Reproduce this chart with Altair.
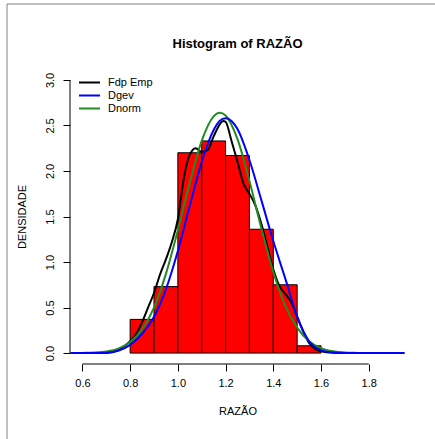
import altair as alt
import pandas as pd

# Histogram of RAZÃO: class limits and densities
bin_starts = [0.8, 0.9, 1.0, 1.1, 1.2, 1.3, 1.4, 1.5]
bin_ends = [0.9, 1.0, 1.1, 1.2, 1.3, 1.4, 1.5, 1.6]
densities = [0.37, 0.73, 2.20, 2.33, 2.17, 1.36, 0.75, 0.08]

# Empirical density (kernel estimate)
emp_x = [0.65, 0.70, 0.725, 0.75, 0.775, 0.80, 0.825, 0.85, 0.875, 0.90, 0.925,
         0.95, 0.975, 1.00, 1.025, 1.05, 1.075, 1.10, 1.125, 1.15, 1.175, 1.19,
         1.20, 1.225, 1.25, 1.275, 1.30, 1.325, 1.35, 1.375, 1.40, 1.425, 1.45,
         1.475, 1.50, 1.525, 1.55, 1.575, 1.60, 1.65, 1.70]
emp_y = [0.0, 0.002, 0.008, 0.035, 0.075, 0.13, 0.21, 0.34, 0.50, 0.66, 0.86,
         1.03, 1.22, 1.47, 1.92, 2.18, 2.25, 2.21, 2.23, 2.38, 2.51, 2.55,
         2.54, 2.33, 2.10, 1.86, 1.75, 1.62, 1.42, 1.17, 0.92, 0.74, 0.65,
         0.56, 0.40, 0.24, 0.11, 0.045, 0.02, 0.003, 0.0]

# Fitted GEV density
gev_x = [0.55, 0.60, 0.65, 0.70, 0.75, 0.80, 0.85, 0.90, 0.95, 1.00, 1.05, 1.10,
         1.15, 1.175, 1.20, 1.225, 1.25, 1.30, 1.35, 1.40, 1.45, 1.50, 1.55,
         1.60, 1.65, 1.70, 1.75, 1.80, 1.85, 1.90, 1.95]
gev_y = [0.0, 0.0, 0.0005, 0.004, 0.025, 0.09, 0.21, 0.40, 0.70, 1.12, 1.62, 2.10,
         2.45, 2.55, 2.58, 2.55, 2.46, 2.12, 1.68, 1.23, 0.82, 0.40, 0.13,
         0.032, 0.006, 0.001, 0.0, 0.0, 0.0, 0.0, 0.0]

# Fitted normal density
norm_x = [0.55, 0.60, 0.65, 0.70, 0.75, 0.80, 0.85, 0.90, 0.95, 1.00, 1.05, 1.10,
          1.15, 1.175, 1.20, 1.25, 1.30, 1.35, 1.40, 1.45, 1.50, 1.55, 1.60,
          1.65, 1.70, 1.75, 1.80, 1.85, 1.90, 1.95]
norm_y = [0.0005, 0.002, 0.006, 0.018, 0.049, 0.12, 0.26, 0.50, 0.87, 1.35, 1.87, 2.33,
          2.60, 2.64, 2.61, 2.35, 1.89, 1.37, 0.89, 0.52, 0.28, 0.13, 0.055,
          0.02, 0.006, 0.002, 0.0005, 0.0001, 0.0, 0.0]

x_ticks = [0.6, 0.8, 1.0, 1.2, 1.4, 1.6, 1.8]
y_ticks = [0.0, 0.5, 1.0, 1.5, 2.0, 2.5, 3.0]
series_names = ["Fdp Emp", "Dgev", "Dnorm"]
series_colors = ["#000000", "#0000ff", "#228b22"]

FONT = "Liberation Sans"
W, H = 335, 295

hist_df = pd.DataFrame({"start": bin_starts, "end": bin_ends, "dens": densities})
emp_df = pd.DataFrame({"x": emp_x, "y": emp_y, "serie": series_names[0]})
gev_df = pd.DataFrame({"x": gev_x, "y": gev_y, "serie": series_names[1]})
norm_df = pd.DataFrame({"x": norm_x, "y": norm_y, "serie": series_names[2]})
xline_df = pd.DataFrame({"a": [min(x_ticks)], "b": [max(x_ticks)]})
yline_df = pd.DataFrame({"a": [min(y_ticks)], "b": [max(y_ticks)]})

x_scale = alt.Scale(domain=[0.548, 1.952], nice=False, zero=False)
y_scale = alt.Scale(domain=[-0.12, 3.12], nice=False, zero=False)

axis_style = dict(
    domain=False, grid=False, tickSize=7, tickColor="black", tickWidth=1,
    labelFont=FONT, labelFontSize=11, labelColor="black",
    titleFont=FONT, titleFontSize=11, titleColor="black", titleFontWeight="normal",
)
x_axis = alt.Axis(
    values=x_ticks, format=".1f", title="RAZÃO", labelPadding=6,
    titleX=W / 2, titleY=47, titleAlign="center", titleBaseline="middle",
    **axis_style,
)
y_axis = alt.Axis(
    values=y_ticks, format=".1f", title="DENSIDADE",
    labelAngle=270, labelAlign="center", labelBaseline="bottom", labelPadding=8,
    titleX=-48, titleY=H / 2, titleAngle=270, titleAlign="center",
    titleBaseline="middle",
    **axis_style,
)

color_scale = alt.Scale(domain=series_names, range=series_colors)
legend = alt.Legend(
    orient="none", legendX=13, legendY=7, title=None,
    symbolType="M-2,0H2", symbolSize=110, symbolStrokeWidth=2,
    labelFont=FONT, labelFontSize=11, labelColor="black",
    labelOffset=12, rowPadding=1, padding=0,
)

bars = alt.Chart(hist_df).mark_rect(
    fill="#ff0000", stroke="black", strokeWidth=1
).encode(
    x=alt.X("start:Q", scale=x_scale, axis=x_axis),
    x2="end:Q",
    y=alt.Y("dens:Q", scale=y_scale, axis=y_axis),
    y2=alt.datum(0),
)


def curve(df):
    return alt.Chart(df).mark_line(strokeWidth=2, interpolate="monotone").encode(
        x=alt.X("x:Q", scale=x_scale, axis=x_axis),
        y=alt.Y("y:Q", scale=y_scale, axis=y_axis),
        color=alt.Color("serie:N", scale=color_scale, legend=legend),
    )


x_line = alt.Chart(xline_df).mark_rule(color="black", strokeWidth=1).encode(
    x=alt.X("a:Q", scale=x_scale, axis=x_axis), x2="b:Q", y=alt.value(H)
)
y_line = alt.Chart(yline_df).mark_rule(color="black", strokeWidth=1).encode(
    y=alt.Y("a:Q", scale=y_scale, axis=y_axis), y2="b:Q", x=alt.value(0)
)

# outer figure frame
frame = alt.Chart(xline_df).mark_rect(
    fillOpacity=0, stroke="#808080", strokeWidth=1
).encode(
    x=alt.value(-63), x2=alt.value(W + 100), y=alt.value(-65), y2=alt.value(H + 100)
)

chart = alt.layer(
    frame, bars, curve(emp_df), curve(norm_df), curve(gev_df), x_line, y_line
).properties(
    width=W, height=H,
    background="white",
    title=alt.TitleParams(
        "Histogram of RAZÃO", font=FONT, fontSize=13, fontWeight="bold",
        color="black", anchor="middle", frame="group", offset=-47,
    ),
    autosize=alt.AutoSizeParams(type="none"),
    padding={"left": 70, "top": 69, "right": 30, "bottom": 75},
).configure_view(
    strokeWidth=0
)

chart.save("out.html", embed_options={"renderer": "svg", "actions": False})
